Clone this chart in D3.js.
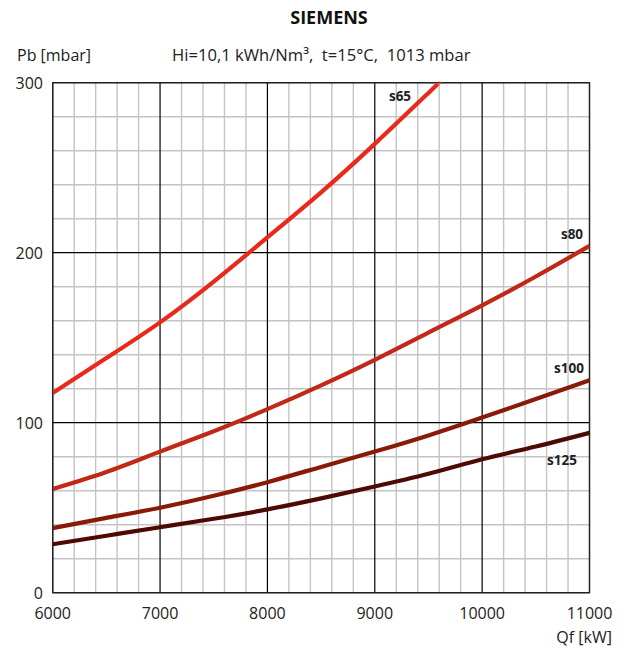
<!DOCTYPE html>
<html><head><meta charset="utf-8">
<script src="https://cdn.jsdelivr.net/npm/d3@7"></script>
<style>body{margin:0;background:#fff}svg{display:block}text{font-family:"Open Sans",Lato,sans-serif}</style>
</head><body>
<svg id="c" width="628" height="648"></svg>
<script>
const qf = [6000, 6500, 7000, 7500, 8000, 8500, 9000, 9500, 10000, 10500, 11000];
const s65 = [117.5, 138, 159, 183, 209, 235.5, 264, 294, null, null, null];
const s65End = [9600, 300];
const s80 = [61, 71, 83, 95, 108, 122, 137, 153, 169, 186, 204];
const s100 = [38, 44, 50, 57, 65, 74, 83, 92.5, 103, 114, 125];
const s125 = [28.5, 33.5, 38.5, 43.5, 49, 55.5, 62.5, 70, 78.5, 86, 94];
const xTicks = [6000, 7000, 8000, 9000, 10000, 11000];
const yTicks = [0, 100, 200, 300];
const seriesNames = ["s65", "s80", "s100", "s125"];
const colors = ["#e8291c", "#c02818", "#8a1a08", "#4d0a04"];

const svg = d3.select("#c");
const L = 52.7, R = 589.5, T = 82.7, B = 592.7;
const x = d3.scaleLinear().domain([6000, 11000]).range([L, R]);
const y = d3.scaleLinear().domain([0, 300]).range([B, T]);

const g = svg.append("g");
g.selectAll(".vx").data(d3.range(6000, 11001, 200).filter(v => v % 1000 !== 0)).join("line")
  .attr("x1", d => x(d)).attr("x2", d => x(d)).attr("y1", T).attr("y2", B)
  .attr("stroke", "#c4c4c4").attr("stroke-width", 1.4);
g.selectAll(".hy").data(d3.range(0, 301, 20).filter(v => v % 100 !== 0)).join("line")
  .attr("y1", d => y(d)).attr("y2", d => y(d)).attr("x1", L).attr("x2", R)
  .attr("stroke", "#c4c4c4").attr("stroke-width", 1.4);
g.selectAll(".mx").data(xTicks).join("line")
  .attr("x1", d => x(d)).attr("x2", d => x(d)).attr("y1", T).attr("y2", B)
  .attr("stroke", "#000").attr("stroke-width", 1.2);
g.selectAll(".my").data(yTicks).join("line")
  .attr("y1", d => y(d)).attr("y2", d => y(d)).attr("x1", L).attr("x2", R)
  .attr("stroke", "#000").attr("stroke-width", 1.2);
svg.append("rect").attr("x", L).attr("y", T).attr("width", R - L).attr("height", B - T)
  .attr("fill", "none").attr("stroke", "#222").attr("stroke-width", 1.3);

const line = d3.line().x(d => x(d[0])).y(d => y(d[1])).curve(d3.curveNatural);
const data = [
  qf.map((q, i) => [q, s65[i]]).filter(d => d[1] != null).concat([s65End]),
  qf.map((q, i) => [q, s80[i]]),
  qf.map((q, i) => [q, s100[i]]),
  qf.map((q, i) => [q, s125[i]])
];
svg.append("clipPath").attr("id", "cp").append("rect").attr("x", L).attr("y", T - 1)
  .attr("width", R - L + 2).attr("height", B - T + 2);
data.forEach((d, i) => {
  svg.append("path").datum(d).attr("d", line).attr("fill", "none").attr("clip-path", "url(#cp)")
    .attr("stroke", colors[i]).attr("stroke-width", 4.2);
});

const lab = [[400, 101], [572, 239], [569, 373], [562, 465]];
seriesNames.forEach((n, i) => {
  svg.append("text").attr("x", lab[i][0]).attr("y", lab[i][1]).attr("text-anchor", "middle")
    .attr("font-size", 13.5).attr("font-weight", "bold").attr("fill", "#222").text(n);
});

svg.selectAll(".yt").data(yTicks).join("text").attr("x", 43).attr("y", d => y(d) + 6)
  .attr("text-anchor", "end").attr("font-size", 16).attr("fill", "#222").text(d => d);
svg.selectAll(".xt").data(xTicks).join("text").attr("x", d => x(d)).attr("y", 619)
  .attr("text-anchor", "middle").attr("font-size", 16).attr("fill", "#222").text(d => d);
svg.append("text").attr("x", 612).attr("y", 643).attr("text-anchor", "end")
  .attr("font-size", 16).attr("fill", "#222").text("Qf [kW]");
svg.append("text").attr("x", 17).attr("y", 61).attr("font-size", 16).attr("fill", "#222").text("Pb [mbar]");
svg.append("text").attr("x", 172).attr("y", 61).attr("font-size", 16.6).attr("fill", "#222")
  .attr("xml:space", "preserve").style("white-space", "pre")
  .text("Hi=10,1 kWh/Nm³,  t=15°C,  1013 mbar");
svg.append("text").attr("x", 329).attr("y", 24).attr("text-anchor", "middle")
  .attr("font-size", 18).attr("font-weight", "bold").attr("fill", "#111").text("SIEMENS");
</script>
</body></html>
